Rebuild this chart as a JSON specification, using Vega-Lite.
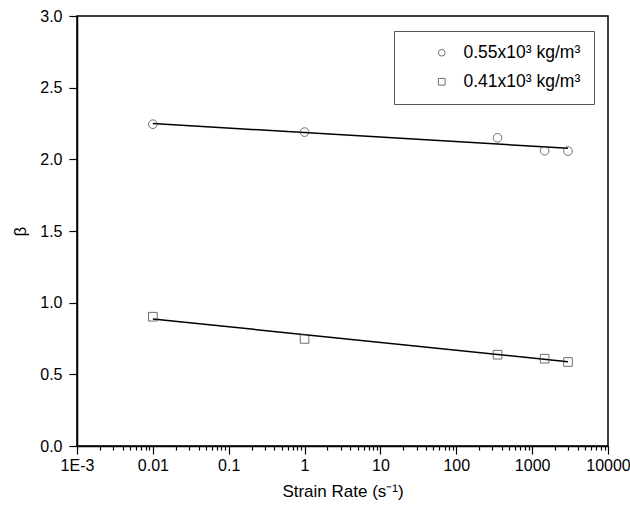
{
  "$schema": "https://vega.github.io/schema/vega-lite/v6.json",
  "width": 531,
  "height": 430,
  "autosize": {"type": "none"},
  "padding": {"left": 77, "top": 16, "right": 22, "bottom": 65},
  "background": "white",
  "config": {
    "view": {"stroke": "black", "strokeWidth": 1.5},
    "font": "Liberation Sans",
    "axis": {"grid": false, "domainColor": "black", "domainWidth": 1.5, "tickColor": "black", "tickWidth": 1.2, "labelColor": "black", "titleColor": "black", "labelFont": "Liberation Sans", "titleFont": "Liberation Sans", "titleFontWeight": "normal"}
  },
  "datasets": {
    "points": [
      {"series": "0.55x10³ kg/m³", "rate": 0.01, "beta": 2.245},
      {"series": "0.55x10³ kg/m³", "rate": 1, "beta": 2.19},
      {"series": "0.55x10³ kg/m³", "rate": 350, "beta": 2.15},
      {"series": "0.55x10³ kg/m³", "rate": 1460, "beta": 2.06},
      {"series": "0.55x10³ kg/m³", "rate": 2970, "beta": 2.058},
      {"series": "0.41x10³ kg/m³", "rate": 0.01, "beta": 0.902},
      {"series": "0.41x10³ kg/m³", "rate": 1, "beta": 0.747},
      {"series": "0.41x10³ kg/m³", "rate": 350, "beta": 0.637},
      {"series": "0.41x10³ kg/m³", "rate": 1460, "beta": 0.609},
      {"series": "0.41x10³ kg/m³", "rate": 2970, "beta": 0.586}
    ],
    "fits": [
      {"series": "0.55x10³ kg/m³", "rate": 0.01, "beta": 2.25},
      {"series": "0.55x10³ kg/m³", "rate": 2970, "beta": 2.077},
      {"series": "0.41x10³ kg/m³", "rate": 0.01, "beta": 0.886},
      {"series": "0.41x10³ kg/m³", "rate": 2970, "beta": 0.588}
    ]
  },
  "layer": [
    {
      "data": {"name": "fits"},
      "mark": {"type": "line", "color": "black", "strokeWidth": 1.5},
      "encoding": {
        "x": {"field": "rate", "type": "quantitative"},
        "y": {"field": "beta", "type": "quantitative"},
        "detail": {"field": "series"}
      }
    },
    {
      "data": {"name": "points"},
      "mark": {"type": "point", "filled": false, "stroke": "#333333", "strokeWidth": 1, "size": 75},
      "encoding": {
        "x": {
          "field": "rate", "type": "quantitative",
          "scale": {"type": "log", "domain": [0.001, 10000], "nice": false},
          "axis": {
            "title": "Strain Rate (s⁻¹)",
            "titleFontSize": 17,
            "titlePadding": 10,
            "labelFontSize": 16,
            "labelPadding": 3,
            "labelOverlap": false,
            "labelFlush": false,
            "values": [0.001,0.002,0.003,0.004,0.005,0.006,0.007,0.008,0.009,0.01,0.02,0.03,0.04,0.05,0.06,0.07,0.08,0.09,0.1,0.2,0.3,0.4,0.5,0.6,0.7,0.8,0.9,1,2,3,4,5,6,7,8,9,10,20,30,40,50,60,70,80,90,100,200,300,400,500,600,700,800,900,1000,2000,3000,4000,5000,6000,7000,8000,9000,10000],
            "labelExpr": "datum.value < 0.0015 ? '1E-3' : (abs(log(datum.value)/LN10 - round(log(datum.value)/LN10)) < 1e-6 ? format(datum.value, '~g') : '')",
            "tickSize": {"condition": {"test": "abs(log(datum.value)/LN10 - round(log(datum.value)/LN10)) < 1e-6", "value": 8}, "value": 4}
          }
        },
        "y": {
          "field": "beta", "type": "quantitative",
          "scale": {"domain": [0, 3], "nice": false, "zero": false},
          "axis": {
            "title": "β",
            "titleFontSize": 17,
            "titlePadding": 10,
            "labelFontSize": 16,
            "labelPadding": 7,
            "labelOverlap": false,
            "values": [0,0.25,0.5,0.75,1,1.25,1.5,1.75,2,2.25,2.5,2.75,3],
            "labelExpr": "abs(datum.value*2 - round(datum.value*2)) < 1e-6 ? format(datum.value, '.1f') : ''",
            "tickSize": {"condition": {"test": "abs(datum.value*2 - round(datum.value*2)) < 1e-6", "value": 8}, "value": 4}
          }
        },
        "shape": {
          "field": "series", "type": "nominal",
          "scale": {"domain": ["0.55x10³ kg/m³", "0.41x10³ kg/m³"], "range": ["circle", "square"]},
          "legend": {
            "title": null,
            "orient": "none",
            "legendX": 317,
            "legendY": 15,
            "strokeColor": "#555555",
            "fillColor": "white",
            "padding": 13,
            "labelFontSize": 17.5,
            "labelFont": "Liberation Sans",
            "labelColor": "black",
            "labelOffset": 13,
            "rowPadding": 10,
            "symbolOffset": 26,
            "symbolSize": 45,
            "symbolStrokeColor": "#333333",
            "symbolFillColor": "transparent",
            "symbolStrokeWidth": 1
          }
        }
      }
    }
  ]
}
